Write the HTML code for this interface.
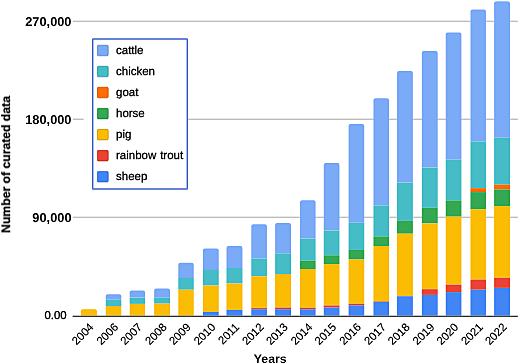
<!DOCTYPE html><html><head><meta charset="utf-8"><style>html,body{margin:0;padding:0;background:#fff;}body{width:520px;height:363px;overflow:hidden;}svg{display:block;font-family:"Liberation Sans",sans-serif;text-rendering:geometricPrecision;}</style></head><body>
<svg width="520" height="363" viewBox="0 0 520 363">
<defs><filter id="sh" x="0" y="0" width="520" height="363" filterUnits="userSpaceOnUse" color-interpolation-filters="sRGB"><feGaussianBlur in="SourceGraphic" stdDeviation="0.35" result="s0"/><feGaussianBlur in="s0" stdDeviation="1.0" result="b"/><feComposite in="s0" in2="b" operator="arithmetic" k1="0" k2="1.6" k3="-0.6" k4="0"/></filter></defs><g filter="url(#sh)"><rect width="520" height="363" fill="#fff"/>
<rect x="72.8" y="20.60" width="445" height="1.5" fill="#cbcbcb"/>
<rect x="72.8" y="118.55" width="445" height="1.5" fill="#cbcbcb"/>
<rect x="72.8" y="216.60" width="445" height="1.5" fill="#cbcbcb"/>
<path d="M80.87,315.60 L80.87,311.20 Q80.87,309.20 82.87,309.20 L94.88,309.20 Q96.88,309.20 96.88,311.20 L96.88,315.60 Z" fill="#fbbc04"/>
<path d="M105.73,299.80 L105.73,296.20 Q105.73,294.20 107.73,294.20 L119.33,294.20 Q121.33,294.20 121.33,296.20 L121.33,299.80 Z" fill="#7baaf7"/>
<rect x="105.73" y="299.80" width="15.60" height="6.20" fill="#46bdc6"/>
<rect x="105.73" y="306.00" width="15.60" height="9.60" fill="#fbbc04"/>
<path d="M129.67,297.60 L129.67,292.40 Q129.67,290.40 131.67,290.40 L143.13,290.40 Q145.13,290.40 145.13,292.40 L145.13,297.60 Z" fill="#7baaf7"/>
<rect x="129.67" y="297.60" width="15.46" height="6.30" fill="#46bdc6"/>
<rect x="129.67" y="303.90" width="15.46" height="11.70" fill="#fbbc04"/>
<path d="M154.17,297.80 L154.17,290.40 Q154.17,288.40 156.17,288.40 L167.97,288.40 Q169.97,288.40 169.97,290.40 L169.97,297.80 Z" fill="#7baaf7"/>
<rect x="154.17" y="297.80" width="15.80" height="5.80" fill="#46bdc6"/>
<rect x="154.17" y="303.60" width="15.80" height="12.00" fill="#fbbc04"/>
<path d="M178.30,277.90 L178.30,264.80 Q178.30,262.80 180.30,262.80 L191.73,262.80 Q193.73,262.80 193.73,264.80 L193.73,277.90 Z" fill="#7baaf7"/>
<rect x="178.30" y="277.90" width="15.43" height="11.80" fill="#46bdc6"/>
<rect x="178.30" y="289.70" width="15.43" height="25.90" fill="#fbbc04"/>
<path d="M202.85,269.90 L202.85,250.60 Q202.85,248.60 204.85,248.60 L216.72,248.60 Q218.72,248.60 218.72,250.60 L218.72,269.90 Z" fill="#7baaf7"/>
<rect x="202.85" y="269.90" width="15.87" height="15.60" fill="#46bdc6"/>
<rect x="202.85" y="285.50" width="15.87" height="26.40" fill="#fbbc04"/>
<rect x="202.85" y="311.90" width="15.87" height="3.70" fill="#4285f4"/>
<path d="M226.47,268.00 L226.47,248.00 Q226.47,246.00 228.47,246.00 L240.47,246.00 Q242.47,246.00 242.47,248.00 L242.47,268.00 Z" fill="#7baaf7"/>
<rect x="226.47" y="268.00" width="16.00" height="15.50" fill="#46bdc6"/>
<rect x="226.47" y="283.50" width="16.00" height="26.40" fill="#fbbc04"/>
<rect x="226.47" y="309.90" width="16.00" height="5.70" fill="#4285f4"/>
<path d="M251.30,258.50 L251.30,226.20 Q251.30,224.20 253.30,224.20 L264.93,224.20 Q266.93,224.20 266.93,226.20 L266.93,258.50 Z" fill="#7baaf7"/>
<rect x="251.30" y="258.50" width="15.63" height="17.80" fill="#46bdc6"/>
<rect x="251.30" y="276.30" width="15.63" height="31.80" fill="#fbbc04"/>
<rect x="251.30" y="308.10" width="15.63" height="1.10" fill="#ea4335"/>
<rect x="251.30" y="309.20" width="15.63" height="6.40" fill="#4285f4"/>
<path d="M275.13,253.30 L275.13,224.90 Q275.13,222.90 277.13,222.90 L289.00,222.90 Q291.00,222.90 291.00,224.90 L291.00,253.30 Z" fill="#7baaf7"/>
<rect x="275.13" y="253.30" width="15.87" height="20.70" fill="#46bdc6"/>
<rect x="275.13" y="274.00" width="15.87" height="33.60" fill="#fbbc04"/>
<rect x="275.13" y="307.60" width="15.87" height="1.60" fill="#ea4335"/>
<rect x="275.13" y="309.20" width="15.87" height="6.40" fill="#4285f4"/>
<path d="M300.05,238.60 L300.05,202.30 Q300.05,200.30 302.05,200.30 L313.60,200.30 Q315.60,200.30 315.60,202.30 L315.60,238.60 Z" fill="#7baaf7"/>
<rect x="300.05" y="238.60" width="15.55" height="22.10" fill="#46bdc6"/>
<rect x="300.05" y="260.70" width="15.55" height="8.30" fill="#34a853"/>
<rect x="300.05" y="269.00" width="15.55" height="38.80" fill="#fbbc04"/>
<rect x="300.05" y="307.80" width="15.55" height="1.50" fill="#ea4335"/>
<rect x="300.05" y="309.30" width="15.55" height="6.30" fill="#4285f4"/>
<path d="M323.73,230.60 L323.73,164.90 Q323.73,162.90 325.73,162.90 L337.47,162.90 Q339.47,162.90 339.47,164.90 L339.47,230.60 Z" fill="#7baaf7"/>
<rect x="323.73" y="230.60" width="15.74" height="24.70" fill="#46bdc6"/>
<rect x="323.73" y="255.30" width="15.74" height="8.80" fill="#34a853"/>
<rect x="323.73" y="264.10" width="15.74" height="41.40" fill="#fbbc04"/>
<rect x="323.73" y="305.50" width="15.74" height="2.00" fill="#ea4335"/>
<rect x="323.73" y="307.50" width="15.74" height="8.10" fill="#4285f4"/>
<path d="M348.57,222.80 L348.57,126.10 Q348.57,124.10 350.57,124.10 L362.27,124.10 Q364.27,124.10 364.27,126.10 L364.27,222.80 Z" fill="#7baaf7"/>
<rect x="348.57" y="222.80" width="15.70" height="27.20" fill="#46bdc6"/>
<rect x="348.57" y="250.00" width="15.70" height="9.50" fill="#34a853"/>
<rect x="348.57" y="259.50" width="15.70" height="44.30" fill="#fbbc04"/>
<rect x="348.57" y="303.80" width="15.70" height="1.50" fill="#ea4335"/>
<rect x="348.57" y="305.30" width="15.70" height="10.30" fill="#4285f4"/>
<path d="M373.45,205.50 L373.45,100.30 Q373.45,98.30 375.45,98.30 L387.00,98.30 Q389.00,98.30 389.00,100.30 L389.00,205.50 Z" fill="#7baaf7"/>
<rect x="373.45" y="205.50" width="15.55" height="30.90" fill="#46bdc6"/>
<rect x="373.45" y="236.40" width="15.55" height="9.60" fill="#34a853"/>
<rect x="373.45" y="246.00" width="15.55" height="55.50" fill="#fbbc04"/>
<rect x="373.45" y="301.50" width="15.55" height="0.50" fill="#ea4335"/>
<rect x="373.45" y="302.00" width="15.55" height="13.60" fill="#4285f4"/>
<path d="M397.05,182.60 L397.05,72.90 Q397.05,70.90 399.05,70.90 L410.85,70.90 Q412.85,70.90 412.85,72.90 L412.85,182.60 Z" fill="#7baaf7"/>
<rect x="397.05" y="182.60" width="15.80" height="38.30" fill="#46bdc6"/>
<rect x="397.05" y="220.90" width="15.80" height="12.80" fill="#34a853"/>
<rect x="397.05" y="233.70" width="15.80" height="62.30" fill="#fbbc04"/>
<rect x="397.05" y="296.00" width="15.80" height="0.30" fill="#ea4335"/>
<rect x="397.05" y="296.30" width="15.80" height="19.30" fill="#4285f4"/>
<path d="M421.80,167.60 L421.80,52.90 Q421.80,50.90 423.80,50.90 L435.70,50.90 Q437.70,50.90 437.70,52.90 L437.70,167.60 Z" fill="#7baaf7"/>
<rect x="421.80" y="167.60" width="15.90" height="40.20" fill="#46bdc6"/>
<rect x="421.80" y="207.80" width="15.90" height="15.60" fill="#34a853"/>
<rect x="421.80" y="223.40" width="15.90" height="65.80" fill="#fbbc04"/>
<rect x="421.80" y="289.20" width="15.90" height="5.70" fill="#ea4335"/>
<rect x="421.80" y="294.90" width="15.90" height="20.70" fill="#4285f4"/>
<path d="M445.70,159.50 L445.70,34.40 Q445.70,32.40 447.70,32.40 L459.43,32.40 Q461.43,32.40 461.43,34.40 L461.43,159.50 Z" fill="#7baaf7"/>
<rect x="445.70" y="159.50" width="15.73" height="40.90" fill="#46bdc6"/>
<rect x="445.70" y="200.40" width="15.73" height="16.20" fill="#34a853"/>
<rect x="445.70" y="216.60" width="15.73" height="68.10" fill="#fbbc04"/>
<rect x="445.70" y="284.70" width="15.73" height="7.40" fill="#ea4335"/>
<rect x="445.70" y="292.10" width="15.73" height="23.50" fill="#4285f4"/>
<path d="M470.47,141.50 L470.47,11.60 Q470.47,9.60 472.47,9.60 L483.93,9.60 Q485.93,9.60 485.93,11.60 L485.93,141.50 Z" fill="#7baaf7"/>
<rect x="470.47" y="141.50" width="15.46" height="46.70" fill="#46bdc6"/>
<rect x="470.47" y="188.20" width="15.46" height="3.90" fill="#ff6d01"/>
<rect x="470.47" y="192.10" width="15.46" height="17.10" fill="#34a853"/>
<rect x="470.47" y="209.20" width="15.46" height="70.40" fill="#fbbc04"/>
<rect x="470.47" y="279.60" width="15.46" height="10.10" fill="#ea4335"/>
<rect x="470.47" y="289.70" width="15.46" height="25.90" fill="#4285f4"/>
<path d="M494.13,137.80 L494.13,3.20 Q494.13,1.20 496.13,1.20 L507.97,1.20 Q509.97,1.20 509.97,3.20 L509.97,137.80 Z" fill="#7baaf7"/>
<rect x="494.13" y="137.80" width="15.84" height="46.80" fill="#46bdc6"/>
<rect x="494.13" y="184.60" width="15.84" height="4.90" fill="#ff6d01"/>
<rect x="494.13" y="189.50" width="15.84" height="16.60" fill="#34a853"/>
<rect x="494.13" y="206.10" width="15.84" height="71.70" fill="#fbbc04"/>
<rect x="494.13" y="277.80" width="15.84" height="10.10" fill="#ea4335"/>
<rect x="494.13" y="287.90" width="15.84" height="27.70" fill="#4285f4"/>
<rect x="72.6" y="315.72" width="445.2" height="1.1" fill="#383838"/>
<text x="71.5" y="25.7" font-size="12.8" font-weight="bold" text-anchor="end" fill="#111">270,000</text>
<text x="71.5" y="123.6" font-size="12.8" font-weight="bold" text-anchor="end" fill="#111">180,000</text>
<text x="71.5" y="222.3" font-size="12.8" font-weight="bold" text-anchor="end" fill="#111">90,000</text>
<text x="66.6" y="319.3" font-size="11.4" text-anchor="end" fill="#111" stroke="#111" stroke-width="0.3">0.00</text>
<text transform="translate(10,164.5) rotate(-90)" font-size="12.2" font-weight="bold" text-anchor="middle" fill="#111" stroke="#111" stroke-width="0.25">Number of curated data</text>
<text transform="translate(94.28,327.8) rotate(-45)" font-size="11.3" text-anchor="end" fill="#111" stroke="#111" stroke-width="0.12">2004</text>
<text transform="translate(118.93,327.8) rotate(-45)" font-size="11.3" text-anchor="end" fill="#111" stroke="#111" stroke-width="0.12">2006</text>
<text transform="translate(142.80,327.8) rotate(-45)" font-size="11.3" text-anchor="end" fill="#111" stroke="#111" stroke-width="0.12">2007</text>
<text transform="translate(167.47,327.8) rotate(-45)" font-size="11.3" text-anchor="end" fill="#111" stroke="#111" stroke-width="0.12">2008</text>
<text transform="translate(191.41,327.8) rotate(-45)" font-size="11.3" text-anchor="end" fill="#111" stroke="#111" stroke-width="0.12">2009</text>
<text transform="translate(216.19,327.8) rotate(-45)" font-size="11.3" text-anchor="end" fill="#111" stroke="#111" stroke-width="0.12">2010</text>
<text transform="translate(239.87,327.8) rotate(-45)" font-size="11.3" text-anchor="end" fill="#111" stroke="#111" stroke-width="0.12">2011</text>
<text transform="translate(264.51,327.8) rotate(-45)" font-size="11.3" text-anchor="end" fill="#111" stroke="#111" stroke-width="0.12">2012</text>
<text transform="translate(288.46,327.8) rotate(-45)" font-size="11.3" text-anchor="end" fill="#111" stroke="#111" stroke-width="0.12">2013</text>
<text transform="translate(313.23,327.8) rotate(-45)" font-size="11.3" text-anchor="end" fill="#111" stroke="#111" stroke-width="0.12">2014</text>
<text transform="translate(337.00,327.8) rotate(-45)" font-size="11.3" text-anchor="end" fill="#111" stroke="#111" stroke-width="0.12">2015</text>
<text transform="translate(361.82,327.8) rotate(-45)" font-size="11.3" text-anchor="end" fill="#111" stroke="#111" stroke-width="0.12">2016</text>
<text transform="translate(386.62,327.8) rotate(-45)" font-size="11.3" text-anchor="end" fill="#111" stroke="#111" stroke-width="0.12">2017</text>
<text transform="translate(410.35,327.8) rotate(-45)" font-size="11.3" text-anchor="end" fill="#111" stroke="#111" stroke-width="0.12">2018</text>
<text transform="translate(435.15,327.8) rotate(-45)" font-size="11.3" text-anchor="end" fill="#111" stroke="#111" stroke-width="0.12">2019</text>
<text transform="translate(458.96,327.8) rotate(-45)" font-size="11.3" text-anchor="end" fill="#111" stroke="#111" stroke-width="0.12">2020</text>
<text transform="translate(483.60,327.8) rotate(-45)" font-size="11.3" text-anchor="end" fill="#111" stroke="#111" stroke-width="0.12">2021</text>
<text transform="translate(507.45,327.8) rotate(-45)" font-size="11.3" text-anchor="end" fill="#111" stroke="#111" stroke-width="0.12">2022</text>
<text x="270.2" y="362.5" font-size="12.3" font-weight="bold" text-anchor="middle" fill="#111">Years</text>
<rect x="83.6" y="40" width="9" height="150" fill="#fff"/>
<rect x="92.7" y="39" width="94.6" height="150" rx="0.6" fill="#fff" stroke="#5a78d6" stroke-width="1.5"/>
<rect x="97.4" y="45.20" width="10.8" height="10.6" rx="1" fill="#7baaf7" stroke="#5f84c0" stroke-width="0.7"/>
<text x="116" y="54.00" font-size="11.5" fill="#111" stroke="#111" stroke-width="0.25" word-spacing="0.7">cattle</text>
<rect x="97.4" y="66.23" width="10.8" height="10.6" rx="1" fill="#46bdc6" stroke="#36939a" stroke-width="0.7"/>
<text x="116" y="75.03" font-size="11.5" fill="#111" stroke="#111" stroke-width="0.25" word-spacing="0.7">chicken</text>
<rect x="97.4" y="87.26" width="10.8" height="10.6" rx="1" fill="#ff6d01" stroke="#c65500" stroke-width="0.7"/>
<text x="116" y="96.06" font-size="11.5" fill="#111" stroke="#111" stroke-width="0.25" word-spacing="0.7">goat</text>
<rect x="97.4" y="108.29" width="10.8" height="10.6" rx="1" fill="#34a853" stroke="#288340" stroke-width="0.7"/>
<text x="116" y="117.09" font-size="11.5" fill="#111" stroke="#111" stroke-width="0.25" word-spacing="0.7">horse</text>
<rect x="97.4" y="129.32" width="10.8" height="10.6" rx="1" fill="#fbbc04" stroke="#c39203" stroke-width="0.7"/>
<text x="116" y="138.12" font-size="11.5" fill="#111" stroke="#111" stroke-width="0.25" word-spacing="0.7">pig</text>
<rect x="97.4" y="150.35" width="10.8" height="10.6" rx="1" fill="#ea4335" stroke="#b63429" stroke-width="0.7"/>
<text x="116" y="159.15" font-size="11.5" fill="#111" stroke="#111" stroke-width="0.25" word-spacing="0.7">rainbow trout</text>
<rect x="97.4" y="171.38" width="10.8" height="10.6" rx="1" fill="#4285f4" stroke="#3367be" stroke-width="0.7"/>
<text x="116" y="180.18" font-size="11.5" fill="#111" stroke="#111" stroke-width="0.25" word-spacing="0.7">sheep</text>
</g>
</svg></body></html>
